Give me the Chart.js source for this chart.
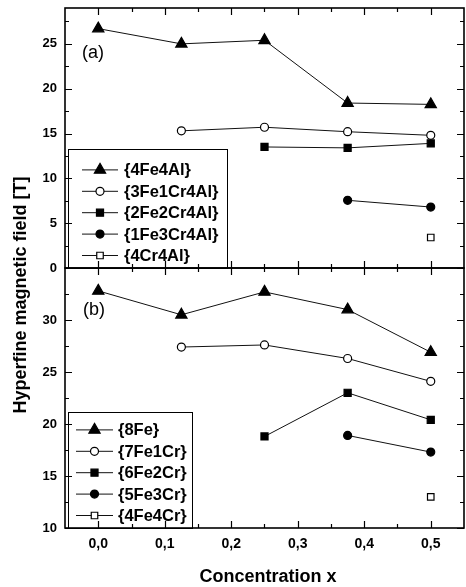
<!DOCTYPE html>
<html>
<head>
<meta charset="utf-8">
<script src="https://cdn.jsdelivr.net/npm/chart.js"></script>
<style>
  html, body { margin: 0; padding: 0; background: #fff; }
  #wrap { position: relative; width: 466px; height: 587px; overflow: hidden; font-family: "Liberation Sans", Arial, sans-serif; }
  canvas { position: absolute; left: 0; }
  #ytitle { position: absolute; left: -130px; top: 283px; width: 300px; height: 24px; line-height: 24px;
            text-align: center; font-weight: bold; font-size: 18px; transform: rotate(-90deg); }
  #xtitle { position: absolute; left: 118px; top: 564px; width: 300px; height: 24px; line-height: 24px;
            text-align: center; font-weight: bold; font-size: 18px; }
</style>
</head>
<body>
<div id="wrap">
  <canvas id="chartA" width="466" height="282" style="top:0;width:466px;height:282px"></canvas>
  <canvas id="chartB" width="466" height="327" style="top:260px;width:466px;height:327px"></canvas>
  <div id="ytitle">Hyperfine magnetic field [T]</div>
  <div id="xtitle">Concentration x</div>
</div>
<script>
// concentration x
var conc = [0, 0.125, 0.25, 0.375, 0.5];

// panel (a)
var namesA = ['{4Fe4Al}', '{3Fe1Cr4Al}', '{2Fe2Cr4Al}', '{1Fe3Cr4Al}', '{4Cr4Al}'];
var fe4al    = [26.7, 25.0, 25.4, 18.4, 18.25];
var fe3cr1al = [null, 15.3, 15.7, 15.2, 14.8];
var fe2cr2al = [null, null, 13.5, 13.4, 13.9];
var fe1cr3al = [null, null, null, 7.55, 6.8];
var cr4al    = [null, null, null, null, 3.4];

// panel (b)
var namesB = ['{8Fe}', '{7Fe1Cr}', '{6Fe2Cr}', '{5Fe3Cr}', '{4Fe4Cr}'];
var fe8    = [32.8, 30.5, 32.7, 31.0, 26.9];
var fe7cr1 = [null, 27.4, 27.6, 26.3, 24.1];
var fe6cr2 = [null, null, 18.8, 23.0, 20.4];
var fe5cr3 = [null, null, null, 18.9, 17.3];
var fe4cr4 = [null, null, null, null, 13.0];

// ticks
var xTicks = [0, 0.1, 0.2, 0.3, 0.4, 0.5];
var yTicksA = [0, 5, 10, 15, 20, 25];
var yTicksB = [10, 15, 20, 25, 30];

var markers = ['triangle', 'circle', 'rect', 'circle', 'rect'];
var fills   = ['#000', '#fff', '#000', '#000', '#fff'];
var radii   = [6.5, 4, 5, 4, 4.6];

var tickFont = { family: '"Liberation Sans", Arial, sans-serif', weight: 'bold', size: 13 };

function points(vals) {
    var out = [];
    vals.forEach(function(v, i) {
        if (v !== null) out.push({ x: conc[i], y: v });
    });
    return out;
}

function makeSets(names, series) {
    return series.map(function(s, i) {
        return {
            label: names[i],
            data: points(s),
            borderColor: '#111',
            borderWidth: 1,
            pointStyle: markers[i],
            pointRadius: radii[i],
            pointHoverRadius: radii[i],
            pointBackgroundColor: fills[i],
            pointBorderColor: '#000',
            pointBorderWidth: 1.2,
            tension: 0
        };
    });
}

// frame + inward ticks on all four sides
var frame = {
    id: 'frame',
    afterDatasetsDraw: function(chart, args, o) {
        var ctx = chart.ctx, a = chart.chartArea;
        var x = chart.scales.x, y = chart.scales.y;
        var xMinor = xTicks.map(function(v) { return v + 0.05; }).filter(function(v) { return v < x.max - 1e-6; });
        var yMinor = o.yMaj.map(function(v) { return v + 2.5; }).filter(function(v) { return v < y.max - 1e-6; });
        ctx.save();
        ctx.strokeStyle = '#000';
        ctx.lineWidth = 1.2;
        ctx.beginPath();
        function xt(v, len) {
            var p = Math.round(x.getPixelForValue(v)) + 0.5;
            ctx.moveTo(p, a.bottom); ctx.lineTo(p, a.bottom - len);
            ctx.moveTo(p, a.top); ctx.lineTo(p, a.top + len);
        }
        function yt(v, len) {
            var p = Math.round(y.getPixelForValue(v)) + 0.5;
            ctx.moveTo(a.left, p); ctx.lineTo(a.left + len, p);
            ctx.moveTo(a.right, p); ctx.lineTo(a.right - len, p);
        }
        xTicks.forEach(function(v) { xt(v, 7); });
        xMinor.forEach(function(v) { xt(v, 4); });
        o.yMaj.forEach(function(v) { yt(v, 7); });
        yMinor.forEach(function(v) { yt(v, 4); });
        ctx.stroke();
        ctx.lineWidth = 1.6;
        ctx.strokeRect(a.left, a.top, a.right - a.left, a.bottom - a.top);
        ctx.restore();
    }
};

// boxed legend in the lower left corner + panel tag
var boxLegend = {
    id: 'boxLegend',
    afterDatasetsDraw: function(chart, args, o) {
        var ctx = chart.ctx, a = chart.chartArea;
        var left = a.left + o.dx, bottom = a.bottom, top = bottom - o.h;
        ctx.save();
        ctx.fillStyle = '#fff';
        ctx.fillRect(left, top, o.w, o.h);
        ctx.strokeStyle = '#000';
        ctx.lineWidth = 1;
        ctx.strokeRect(left + 0.5, top + 0.5, o.w, o.h);
        var sets = chart.data.datasets, n = sets.length;
        sets.forEach(function(ds, i) {
            var yy = bottom - 12.5 - (n - 1 - i) * 21.4;
            ctx.strokeStyle = '#111';
            ctx.lineWidth = 1;
            ctx.beginPath();
            ctx.moveTo(left + o.l0, yy); ctx.lineTo(left + o.l1, yy);
            ctx.stroke();
            ctx.fillStyle = ds.pointBackgroundColor;
            ctx.strokeStyle = '#000';
            ctx.lineWidth = 1.2;
            Chart.helpers.drawPoint(ctx, { pointStyle: ds.pointStyle, radius: ds.pointRadius, rotation: 0, borderWidth: 1.2 },
                left + (o.l0 + o.l1) / 2, yy);
            ctx.fillStyle = '#000';
            ctx.font = 'bold 16.5px "Liberation Sans", Arial, sans-serif';
            ctx.textBaseline = 'middle';
            ctx.textAlign = 'left';
            ctx.fillText(ds.label, left + o.tx, yy + 1);
        });
        ctx.font = '18px "Liberation Sans", Arial, sans-serif';
        ctx.textBaseline = 'middle';
        ctx.fillText(o.tag, a.left + o.tagX, a.top + o.tagY);
        ctx.restore();
    }
};

function noPad(s) { s.paddingTop = 0; s.paddingBottom = 0; s.paddingLeft = 0; s.paddingRight = 0; }

function makeChart(id, sets, yMin, yMax, yMaj, legendOpts, padding, showX) {
    return new Chart(document.getElementById(id), {
        type: 'line',
        data: { datasets: sets },
        options: {
            responsive: false,
            animation: false,
            devicePixelRatio: 1,
            layout: { padding: padding, autoPadding: false },
            events: [],
            scales: {
                x: {
                    type: 'linear',
                    min: -0.05, max: 0.55,
                    display: showX,
                    afterBuildTicks: function(s) { s.ticks = xTicks.map(function(v) { return { value: v }; }); },
                    afterFit: function(s) { noPad(s); if (showX) s.height = 59; },
                    grid: { display: false, drawTicks: false },
                    border: { display: false },
                    ticks: {
                        padding: 8,
                        color: '#000',
                        maxRotation: 0,
                        autoSkip: false,
                        font: { family: tickFont.family, weight: 'bold', size: 14 },
                        callback: function(v) { return v.toFixed(1).replace('.', ','); }
                    }
                },
                y: {
                    min: yMin, max: yMax,
                    afterBuildTicks: function(s) { s.ticks = yMaj.map(function(v) { return { value: v }; }); },
                    afterFit: function(s) { noPad(s); s.width = 65; },
                    grid: { display: false, drawTicks: false },
                    border: { display: false },
                    ticks: {
                        padding: 8,
                        color: '#000',
                        autoSkip: false,
                        font: tickFont,
                        callback: function(v) { return String(v); }
                    }
                }
            },
            plugins: {
                legend: { display: false },
                tooltip: { enabled: false },
                boxLegend: legendOpts,
                frame: { yMaj: yMaj }
            }
        },
        plugins: [boxLegend, frame]
    });
}

makeChart('chartA', makeSets(namesA, [fe4al, fe3cr1al, fe2cr2al, fe1cr3al, cr4al]), 0, 29, yTicksA,
    { dx: 3, w: 159, h: 119, l0: 14, l1: 50, tx: 56, tag: '(a)', tagX: 17, tagY: 45 },
    { left: 0, right: 2, top: 8, bottom: 14 }, false);

makeChart('chartB', makeSets(namesB, [fe8, fe7cr1, fe6cr2, fe5cr3, fe4cr4]), 10, 35, yTicksB,
    { dx: 3, w: 124, h: 116, l0: 8, l1: 45, tx: 50, tag: '(b)', tagX: 18, tagY: 42 },
    { left: 0, right: 2, top: 8, bottom: 0 }, true);
</script>
</body>
</html>
